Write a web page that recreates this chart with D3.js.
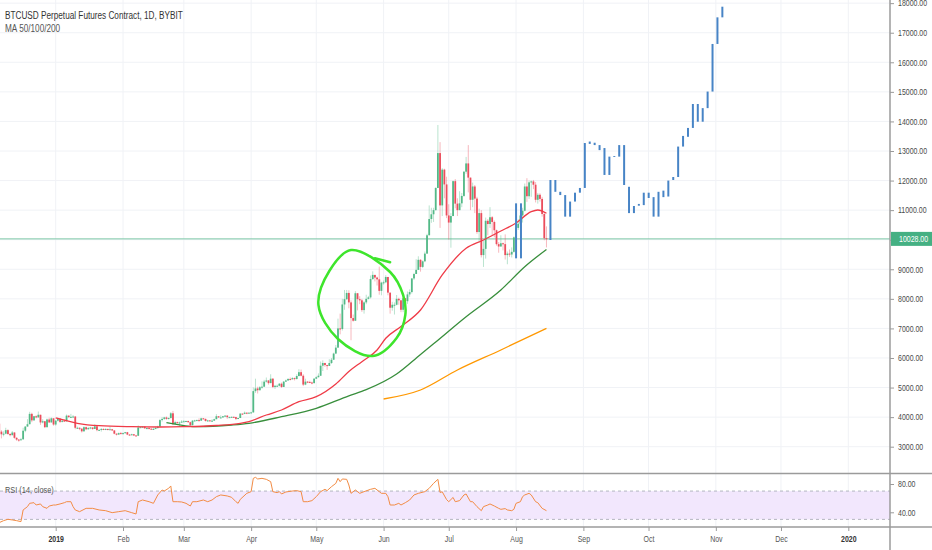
<!DOCTYPE html>
<html>
<head>
<meta charset="utf-8" />
<title>BTCUSD Perpetual Futures Contract, 1D, BYBIT</title>
<script src="https://d3js.org/d3.v7.min.js"></script>
<style>
  html, body { margin: 0; padding: 0; background: #fff; }
  svg { display: block; font-family: "Liberation Sans", Arial, sans-serif; }
</style>
</head>
<body>
<svg id="chart" width="932" height="550"></svg>
<script>
// daily candles, first bar 2018-12-06, last bar 2019-08-15 (open = previous close)
const firstDay = '2018-12-06'
const firstOpen = 3780
const closes = [
  3510, 3420, 3440, 3560, 3430, 3390, 3480, 3300, 3240, 3220, 3250, 3540, 3680, 3760, 4110, 3890, 4030, 3990, 4080, 3820, 3860, 3660, 3920, 3820, 3960, 3750,
  3880, 3950, 3840, 3880, 3860, 4050, 4000, 4010, 4020, 3640, 3640, 3610, 3520, 3660, 3590, 3630, 3650, 3600, 3690, 3560, 3570, 3600, 3580, 3600, 3590, 3590, 3550, 3440, 3410, 3460, 3430,
  3460, 3490, 3410, 3400, 3420, 3380, 3370, 3650, 3660, 3680, 3620, 3630, 3610, 3590, 3600, 3630, 3680, 3900, 3940, 3990, 3940, 3970, 4130, 3760, 3830, 3810, 3820, 3850,
  3860, 3870, 3830, 3730, 3880, 3890, 3900, 3880, 3960, 3940, 3870, 3890, 3880, 3880, 3930, 4030, 3990, 3990, 4030, 4050, 4000, 4000, 4010, 4000, 3940, 3970, 4120, 4110, 4150, 4140, 4150,
  4160, 4880, 4970, 4910, 5010, 5030, 5200, 5240, 5150, 5300, 5020, 5060, 5060, 5130, 5020, 5200, 5240, 5290, 5280, 5320, 5290, 5390, 5520, 5400, 5100, 5200, 5190, 5170, 5150, 5300,
  5350, 5400, 5740, 5830, 5760, 5730, 5830, 5940, 6150, 6350, 7000, 6980, 7810, 7990, 8200, 7880, 7350, 7260, 8190, 7990, 7950, 7620, 7880, 8000, 8050, 8670, 8810, 8720, 8660, 8270, 8550,
  8560, 8740, 8210, 7700, 7800, 7800, 8000, 7950, 7630, 8020, 7920, 8150, 8230, 8690, 8840, 8980, 9320, 9080, 9270, 9530, 10150, 10700, 10860, 11000, 11750, 12930, 11160, 12370, 11870, 10820,
  10580, 10800, 11980, 11220, 11000, 11230, 11480, 12300, 12580, 12100, 11350, 11800, 11390, 10260, 10900, 9480, 9690, 10640, 10530, 10760, 10600, 10320, 9850, 9770, 9880, 9850, 9480, 9530, 9500, 9590, 10080,
  10400, 10540, 10820, 10980, 11800, 11470, 11940, 11970, 11860, 11350, 11520, 11380, 10870, 10050, 10028
]
const highs = [
  3880, 3560, 3520, 3640, 3590, 3460, 3530, 3490, 3320, 3260, 3300, 3640, 3700, 3930, 4180, 4150, 4040, 4060, 4190, 4080, 3930, 3870, 3950, 3980, 3990, 3960,
  3900, 3980, 3950, 3900, 3920, 4090, 4060, 4110, 4070, 4040, 3680, 3650, 3620, 3690, 3680, 3670, 3670, 3650, 3760, 3700, 3590, 3630, 3620, 3620, 3610, 3680, 3600, 3560, 3450, 3480, 3500,
  3480, 3500, 3500, 3430, 3440, 3430, 3400, 3720, 3680, 3690, 3690, 3660, 3670, 3620, 3650, 3680, 3710, 3940, 4000, 4010, 4020, 3990, 4170, 4210, 3880, 3850, 3850, 3900,
  3900, 3880, 3880, 3850, 3900, 3910, 3920, 3960, 3980, 3970, 3950, 3910, 3900, 3930, 3950, 4100, 4030, 4060, 4040, 4070, 4070, 4020, 4020, 4020, 4010, 3980, 4130, 4120, 4190, 4160, 4160,
  4180, 5000, 5300, 5030, 5050, 5210, 5260, 5340, 5250, 5450, 5320, 5090, 5100, 5150, 5170, 5220, 5270, 5320, 5340, 5350, 5340, 5450, 5620, 5610, 5450, 5300, 5220, 5230, 5200, 5320,
  5380, 5480, 5880, 5920, 5840, 5770, 5960, 6000, 6180, 6440, 7330, 7500, 8000, 8300, 8300, 8290, 7950, 7470, 8260, 8190, 8090, 8000, 7920, 8140, 8100, 8790, 8930, 8810, 8750, 9090, 8580,
  8620, 8800, 8740, 8210, 7900, 7880, 8130, 8040, 7950, 8050, 8030, 8250, 8320, 8700, 8880, 9340, 9440, 9340, 9300, 9600, 10200, 11160, 11080, 11080, 11770, 13880, 13300, 12420, 12400, 12130,
  11200, 10900, 12000, 12050, 11400, 11640, 11580, 12320, 12800, 13200, 12100, 11930, 11850, 11450, 11050, 11000, 9970, 10750, 10700, 11100, 10800, 10650, 10340, 9920, 10150, 9900, 10180, 9600, 9670, 9740, 10110,
  10500, 10690, 10930, 11080, 11900, 12080, 12000, 12000, 12020, 11950, 11580, 11570, 11450, 10920, 10450
]
const lows = [
  3470, 3280, 3350, 3420, 3400, 3350, 3380, 3270, 3200, 3170, 3220, 3240, 3490, 3680, 3760, 3830, 3880, 3960, 3990, 3740, 3790, 3630, 3650, 3810, 3820, 3710,
  3710, 3850, 3800, 3820, 3850, 3850, 3980, 3970, 3990, 3590, 3600, 3560, 3480, 3510, 3560, 3580, 3590, 3570, 3600, 3520, 3530, 3510, 3560, 3560, 3550, 3580, 3530, 3420, 3380, 3400, 3420,
  3410, 3440, 3390, 3380, 3390, 3360, 3360, 3360, 3630, 3630, 3610, 3590, 3590, 3570, 3590, 3600, 3610, 3670, 3850, 3910, 3910, 3920, 3950, 3730, 3760, 3790, 3670, 3800,
  3850, 3830, 3810, 3700, 3720, 3850, 3870, 3850, 3880, 3920, 3850, 3840, 3860, 3840, 3880, 3930, 3970, 3960, 3980, 4010, 3940, 3980, 3990, 3980, 3900, 3930, 3970, 4080, 4100, 4100, 4130,
  4130, 4150, 4820, 4800, 4900, 4960, 5020, 5170, 5100, 5150, 4980, 4950, 5040, 5040, 4990, 5020, 5190, 5230, 5240, 5270, 5240, 5270, 5380, 5380, 5050, 5080, 5150, 5150, 5110, 5140,
  5290, 5340, 5390, 5560, 5700, 5600, 5730, 5800, 5950, 6130, 6350, 6800, 6930, 7630, 7960, 7680, 6600, 7230, 7260, 7610, 7820, 7560, 7500, 7820, 7980, 8010, 8640, 8590, 8450, 8140, 8120,
  8480, 8530, 8120, 7500, 7600, 7470, 7780, 7800, 7550, 7550, 7730, 7830, 8070, 8180, 8640, 8850, 8980, 8920, 9040, 9240, 9520, 10150, 10570, 10600, 10990, 11750, 10400, 10800, 11400, 10730,
  10000, 9730, 10800, 11060, 10800, 11000, 11100, 11450, 12230, 11600, 11000, 11100, 10900, 10200, 9900, 9400, 9080, 9360, 10150, 10400, 10150, 10080, 9800, 9560, 9770, 9640, 9330, 9170, 9420, 9400, 9560,
  9900, 10330, 10500, 10580, 10960, 11280, 11380, 11450, 11710, 11260, 11220, 11290, 10780, 9980, 9740
]

// moving averages
const ma50 = [
  ['2019-01-01', 3971], ['2019-01-11', 3791], ['2019-01-21', 3710], ['2019-02-05', 3676], ['2019-02-18', 3666],
  ['2019-03-01', 3676], ['2019-03-16', 3717], ['2019-03-27', 3791], ['2019-03-31', 3852], ['2019-04-08', 4072],
  ['2019-04-15', 4241], ['2019-04-23', 4522], ['2019-05-01', 4691], ['2019-05-10', 5120], ['2019-05-16', 5543],
  ['2019-05-22', 5875], ['2019-05-29', 6270], ['2019-06-02', 6666], ['2019-06-09', 7065], ['2019-06-18', 7623],
  ['2019-06-28', 8807], ['2019-07-09', 9710], ['2019-07-17', 9990], ['2019-07-25', 10295], ['2019-08-01', 10565],
  ['2019-08-08', 10947], ['2019-08-11', 11005], ['2019-08-15', 10893]
]
const ma100 = [
  ['2019-02-21', 3818], ['2019-03-08', 3676], ['2019-03-23', 3734], ['2019-03-31', 3791], ['2019-04-15', 4015],
  ['2019-05-01', 4299], ['2019-05-16', 4720], ['2019-05-24', 4930], ['2019-06-07', 5459], ['2019-06-18', 6120],
  ['2019-06-24', 6480], ['2019-07-09', 7396], ['2019-07-25', 8299], ['2019-08-05', 9087], ['2019-08-15', 9669]
]
const ma200 = [
  ['2019-06-01', 4613], ['2019-06-18', 4918], ['2019-07-05', 5594], ['2019-07-25', 6271], ['2019-08-15', 7004]
]

// RSI(14)
const rsi = [
  ['2018-12-06', 25.4], ['2018-12-08', 28.2], ['2018-12-10', 30.1], ['2018-12-12', 29.2], ['2018-12-14', 28.2], ['2018-12-16', 26.8],
  ['2018-12-17', 43.3], ['2018-12-19', 48.0], ['2018-12-20', 52.7], ['2018-12-22', 53.6], ['2018-12-23', 50.3], ['2018-12-25', 51.8],
  ['2018-12-26', 48.0], ['2018-12-28', 45.6], ['2018-12-29', 48.9], ['2018-12-31', 50.3], ['2019-01-01', 50.3], ['2019-01-03', 51.8],
  ['2019-01-05', 53.6], ['2019-01-06', 55.0], ['2019-01-08', 55.0], ['2019-01-09', 48.0], ['2019-01-10', 43.3], ['2019-01-12', 40.9],
  ['2019-01-15', 45.6], ['2019-01-18', 45.6], ['2019-01-21', 43.3], ['2019-01-24', 42.3], ['2019-01-27', 39.5], ['2019-01-30', 40.9],
  ['2019-02-02', 42.3], ['2019-02-05', 39.5], ['2019-02-07', 37.6], ['2019-02-08', 55.0], ['2019-02-10', 57.4], ['2019-02-13', 55.0],
  ['2019-02-15', 52.7], ['2019-02-17', 64.5], ['2019-02-19', 71.5], ['2019-02-20', 70.1], ['2019-02-22', 73.9], ['2019-02-23', 77.2],
  ['2019-02-24', 55.0], ['2019-02-26', 55.0], ['2019-02-28', 54.6], ['2019-03-02', 52.7], ['2019-03-04', 48.9], ['2019-03-05', 55.0],
  ['2019-03-07', 55.0], ['2019-03-10', 57.4], ['2019-03-12', 55.0], ['2019-03-14', 57.4], ['2019-03-16', 62.1], ['2019-03-18', 64.5],
  ['2019-03-21', 63.1], ['2019-03-23', 61.2], ['2019-03-25', 55.0], ['2019-03-26', 52.7], ['2019-03-27', 58.3], ['2019-03-30', 66.8],
  ['2019-04-01', 69.2], ['2019-04-02', 88.0], ['2019-04-03', 89.4], ['2019-04-04', 87.1], ['2019-04-06', 88.0], ['2019-04-08', 86.6],
  ['2019-04-10', 83.3], ['2019-04-11', 69.2], ['2019-04-13', 67.8], ['2019-04-14', 69.2], ['2019-04-15', 65.9], ['2019-04-17', 68.7],
  ['2019-04-20', 70.1], ['2019-04-22', 70.6], ['2019-04-24', 69.2], ['2019-04-25', 55.0], ['2019-04-27', 55.0], ['2019-04-29', 56.5],
  ['2019-05-01', 62.1], ['2019-05-03', 69.2], ['2019-05-05', 72.5], ['2019-05-06', 70.6], ['2019-05-08', 76.2], ['2019-05-10', 80.9],
  ['2019-05-11', 88.0], ['2019-05-12', 83.3], ['2019-05-13', 87.1], ['2019-05-15', 86.6], ['2019-05-16', 78.6], ['2019-05-17', 66.8],
  ['2019-05-19', 71.5], ['2019-05-21', 66.8], ['2019-05-23', 69.2], ['2019-05-26', 72.5], ['2019-05-28', 73.9], ['2019-05-30', 69.2],
  ['2019-05-31', 66.8], ['2019-06-02', 66.8], ['2019-06-03', 62.1], ['2019-06-04', 50.3], ['2019-06-06', 50.3], ['2019-06-08', 52.7],
  ['2019-06-09', 50.3], ['2019-06-11', 53.6], ['2019-06-13', 57.4], ['2019-06-15', 64.5], ['2019-06-17', 66.8], ['2019-06-20', 69.2],
  ['2019-06-22', 73.9], ['2019-06-24', 80.9], ['2019-06-26', 86.6], ['2019-06-27', 68.0], ['2019-06-28', 69.0], ['2019-06-30', 58.0],
  ['2019-07-01', 55.0], ['2019-07-03', 61.0], ['2019-07-04', 55.0], ['2019-07-06', 56.5], ['2019-07-08', 64.5], ['2019-07-09', 65.9],
  ['2019-07-11', 55.0], ['2019-07-12', 55.0], ['2019-07-14', 48.0], ['2019-07-16', 42.3], ['2019-07-17', 48.0], ['2019-07-19', 50.3],
  ['2019-07-20', 51.8], ['2019-07-22', 48.9], ['2019-07-24', 45.6], ['2019-07-25', 44.2], ['2019-07-27', 45.2], ['2019-07-28', 43.3],
  ['2019-07-30', 42.3], ['2019-07-31', 44.2], ['2019-08-01', 52.7], ['2019-08-03', 55.0], ['2019-08-04', 62.1], ['2019-08-05', 64.5],
  ['2019-08-07', 66.8], ['2019-08-08', 64.5], ['2019-08-10', 55.0], ['2019-08-11', 53.6], ['2019-08-13', 45.6], ['2019-08-15', 42.3]
]

// projected bars pattern (blue), slot index from 2019-08-01 to 2019-11-04
const projFrom = '2019-08-01'
const projTo = '2019-11-04'
const projIdx = [0, 1, 7, 8, 9, 10, 11, 12, 13, 14, 15, 16, 17, 18, 19, 20, 21, 22, 23, 24, 25, 26, 27, 28, 29, 30, 31, 32, 33, 34, 35, 36, 37, 38, 39, 40, 41, 42]
const projHigh = [11230, 11230, 12020, 12020, 11620, 11510, 11290, 11590, 11750, 13270, 13320, 13280, 13200, 13100, 12810, 12830, 13200, 13200, 11790, 11140, 11210, 11590, 11590, 11440, 11620, 11660, 12000, 12120, 13150, 13510, 13780, 14590, 14590, 14450, 15010, 16620, 17520, 17880]
const projLow = [9370, 9370, 9990, 11620, 11510, 10780, 10780, 11290, 11590, 11750, 13240, 13200, 13030, 12190, 12190, 12800, 12810, 11850, 10900, 10900, 11150, 11170, 11410, 10780, 10780, 11440, 11460, 12020, 12120, 13150, 13480, 13780, 13990, 13990, 14450, 15010, 16620, 17520]

// hand drawn circle (date, price)
const circlePts = [
  ['2019-05-17', 9652], ['2019-06-04', 8908], ['2019-06-10', 8130], ['2019-06-11', 7454], ['2019-06-07', 6676],
  ['2019-05-27', 6067], ['2019-05-11', 6642], ['2019-05-02', 7792], ['2019-05-07', 8942]
]
const circleTail = [['2019-05-28', 9375], ['2019-06-04', 9240]]

const priceTicks = [3000, 4000, 5000, 6000, 7000, 8000, 9000, 10000, 11000, 12000, 13000, 14000, 15000, 16000, 17000, 18000]
const rsiTicks = [40, 80]
const monthTicks = ['2019-01-01', '2019-02-01', '2019-03-01', '2019-04-01', '2019-05-01', '2019-06-01', '2019-07-01',
  '2019-08-01', '2019-09-01', '2019-10-01', '2019-11-01', '2019-12-01', '2020-01-01']

const parseDay = d3.utcParse('%Y-%m-%d')
const axisX = 890
const mainBottom = 473
const rsiTop = 474
const rsiBottom = 527
const squeeze = 0.82 // the labels in the picture use a narrow face

const x = d3.scaleUtc()
    .domain([parseDay('2019-01-01'), parseDay('2020-01-01')])
    .range([55.7, 848.3])
const y = d3.scaleLinear().domain([3000, 18000]).range([446.7, 3.15])
const yRsi = d3.scaleLinear().domain([40, 80]).range([512.3, 484])
const xProj = d3.scaleLinear().domain([0, 42]).range([x(parseDay(projFrom)), x(parseDay(projTo))])

const svg = d3.select('#chart')

const defs = svg.append('defs')
defs.append('clipPath').attr('id', 'mainClip')
    .append('rect').attr('x', 0).attr('y', 0).attr('width', axisX).attr('height', mainBottom)
defs.append('clipPath').attr('id', 'rsiClip')
    .append('rect').attr('x', 0).attr('y', rsiTop).attr('width', axisX).attr('height', rsiBottom - rsiTop)

// grid
const grid = svg.append('g')
grid.selectAll('line.v')
    .data(monthTicks)
    .enter()
    .append('line')
    .attr('x1', (d) => x(parseDay(d)))
    .attr('x2', (d) => x(parseDay(d)))
    .attr('y1', 0)
    .attr('y2', rsiBottom)
    .style('stroke', '#f0f2f6')
    .style('stroke-width', '1px')
grid.selectAll('line.h')
    .data(priceTicks)
    .enter()
    .append('line')
    .attr('x1', 0)
    .attr('x2', axisX)
    .attr('y1', (d) => y(d))
    .attr('y2', (d) => y(d))
    .style('stroke', '#f0f2f6')
    .style('stroke-width', '1px')

// main pane
const main = svg.append('g').attr('clip-path', 'url(#mainClip)')

const lastClose = closes[closes.length - 1]
main.append('line')
    .attr('x1', 0)
    .attr('x2', axisX)
    .attr('y1', y(lastClose))
    .attr('y2', y(lastClose))
    .style('stroke', '#7cc7a6')
    .style('stroke-width', '1px')

const day0 = parseDay(firstDay)
const candles = closes.map((c, i) => ({
    date: d3.utcDay.offset(day0, i),
    open: i === 0 ? firstOpen : closes[i - 1],
    high: highs[i],
    low: lows[i],
    close: c
}))
const upColor = '#53b987'
const downColor = '#eb4d5c'

main.selectAll('line.wick')
    .data(candles)
    .enter()
    .append('line')
    .attr('x1', (d) => x(d.date))
    .attr('x2', (d) => x(d.date))
    .attr('y1', (d) => y(d.high))
    .attr('y2', (d) => y(d.low))
    .style('stroke', (d) => (d.close >= d.open ? upColor : downColor))
    .style('stroke-opacity', 0.4)
    .style('stroke-width', '1px')

main.selectAll('rect.body')
    .data(candles)
    .enter()
    .append('rect')
    .attr('x', (d) => x(d.date) - 0.9)
    .attr('width', 1.8)
    .attr('y', (d) => y(Math.max(d.open, d.close)))
    .attr('height', (d) => Math.max(1, Math.abs(y(d.open) - y(d.close))))
    .style('fill', (d) => (d.close >= d.open ? upColor : downColor))

const maLine = d3.line()
    .x((d) => x(parseDay(d[0])))
    .y((d) => y(d[1]))
    .curve(d3.curveMonotoneX)

main.append('path').datum(ma200).attr('d', maLine)
    .style('fill', 'none').style('stroke', '#ff9800').style('stroke-width', '1.3px')
main.append('path').datum(ma100).attr('d', maLine)
    .style('fill', 'none').style('stroke', '#388e3c').style('stroke-width', '1.3px')
main.append('path').datum(ma50).attr('d', maLine)
    .style('fill', 'none').style('stroke', '#ef3b47').style('stroke-width', '1.3px')

main.selectAll('line.proj')
    .data(projIdx)
    .enter()
    .append('line')
    .attr('x1', (d) => xProj(d))
    .attr('x2', (d) => xProj(d))
    .attr('y1', (d, i) => y(projHigh[i]))
    .attr('y2', (d, i) => y(projLow[i]))
    .style('stroke', '#4784c6')
    .style('stroke-width', '2px')

main.append('path').datum(circlePts)
    .attr('d', d3.line().x((d) => x(parseDay(d[0]))).y((d) => y(d[1])).curve(d3.curveCatmullRomClosed))
    .style('fill', 'none').style('stroke', '#3ee52c').style('stroke-width', '2.5px')
main.append('path').datum(circleTail)
    .attr('d', d3.line().x((d) => x(parseDay(d[0]))).y((d) => y(d[1])))
    .style('fill', 'none').style('stroke', '#3ee52c').style('stroke-width', '2.5px')
    .style('stroke-linecap', 'round')

// rsi pane
const rp = svg.append('g').attr('clip-path', 'url(#rsiClip)')
rp.append('rect')
    .attr('x', 0)
    .attr('width', axisX)
    .attr('y', yRsi(70))
    .attr('height', yRsi(30) - yRsi(70))
    .style('fill', '#f2e7fd')
rp.selectAll('line.band')
    .data([70, 30])
    .enter()
    .append('line')
    .attr('x1', 0)
    .attr('x2', axisX)
    .attr('y1', (d) => yRsi(d))
    .attr('y2', (d) => yRsi(d))
    .style('stroke', '#b4b6c0')
    .style('stroke-width', '1px')
    .style('stroke-dasharray', '3,3')
rp.append('path').datum(rsi)
    .attr('d', d3.line().x((d) => x(parseDay(d[0]))).y((d) => yRsi(d[1])))
    .style('fill', 'none').style('stroke', '#f28c45').style('stroke-width', '1px')

// frame
svg.selectAll('line.div')
    .data([mainBottom + 0.5, rsiBottom])
    .enter()
    .append('line')
    .attr('x1', 0)
    .attr('x2', 932)
    .attr('y1', (d) => d)
    .attr('y2', (d) => d)
    .style('stroke', '#9b9b9b')
    .style('stroke-width', '1.5px')
svg.append('line')
    .attr('x1', axisX).attr('x2', axisX).attr('y1', 0).attr('y2', 550)
    .style('stroke', '#9b9b9b').style('stroke-width', '1.5px')

// axes
const priceAxis = svg.append('g')
    .attr('transform', `translate(${axisX},0)`)
    .call(d3.axisRight(y).tickValues(priceTicks).tickSize(4).tickPadding(4).tickFormat(d3.format('.2f')))
const rsiAxis = svg.append('g')
    .attr('transform', `translate(${axisX},0)`)
    .call(d3.axisRight(yRsi).tickValues(rsiTicks).tickSize(4).tickPadding(4).tickFormat(d3.format('.2f')))
const timeAxis = svg.append('g')
    .attr('transform', `translate(0,${rsiBottom})`)
    .call(d3.axisBottom(x).tickValues(monthTicks.map(parseDay)).tickSize(4).tickPadding(5)
        .tickFormat((d) => (d.getUTCMonth() === 0 ? d3.utcFormat('%Y')(d) : d3.utcFormat('%b')(d))))

;[priceAxis, rsiAxis, timeAxis].forEach((g) => {
    g.select('.domain').remove()
    g.selectAll('.tick line').style('stroke', '#9b9b9b')
    g.selectAll('.tick text')
        .style('font-family', '"Liberation Sans", Arial, sans-serif')
        .style('font-size', '8.5px')
        .style('fill', '#4a4a4a')
})
timeAxis.selectAll('.tick text')
    .style('font-weight', (d) => (d.getUTCMonth() === 0 ? 'bold' : 'normal'))
    .style('fill', (d) => (d.getUTCMonth() === 0 ? '#333' : '#555'))

// last price label
const tag = svg.append('g').attr('transform', `translate(${axisX + 1},${y(lastClose)})`)
tag.append('rect')
    .attr('x', 0).attr('y', -7).attr('width', 41).attr('height', 14)
    .style('fill', '#45b083')
tag.append('text')
    .attr('x', 8).attr('y', 0).attr('dy', '0.35em')
    .style('font-size', '8.5px').style('fill', '#fff')
    .text(d3.format('.2f')(lastClose))

// legends
svg.append('text')
    .attr('x', 5).attr('y', 19)
    .style('font-size', '10px').style('fill', '#333')
    .text('BTCUSD Perpetual Futures Contract, 1D, BYBIT')
svg.append('text')
    .attr('x', 5).attr('y', 32)
    .style('font-size', '10px').style('fill', '#555')
    .text('MA 50/100/200')
svg.append('text')
    .attr('x', 5).attr('y', 492.5)
    .style('font-size', '9px').style('fill', '#555')
    .text('RSI (14, close)')

// narrow every label the way the source face is narrow
svg.selectAll('text').each(function () {
    const w = this.getComputedTextLength()
    d3.select(this).attr('textLength', w * squeeze).attr('lengthAdjust', 'spacingAndGlyphs')
})
</script>
</body>
</html>
